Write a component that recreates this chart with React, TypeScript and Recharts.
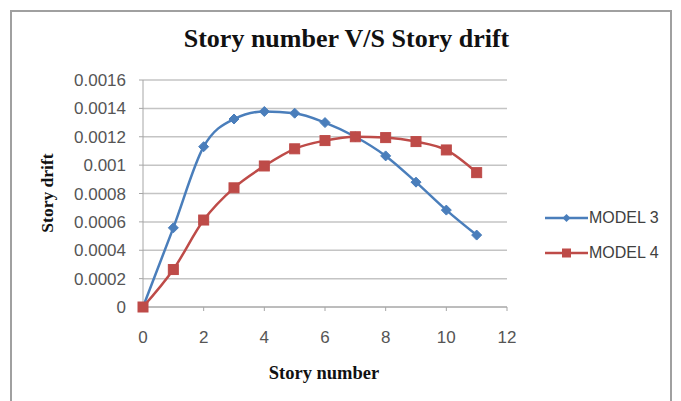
import { LineChart, Line, XAxis, YAxis, CartesianGrid, Legend } from "recharts";

const stories = [0, 1, 2, 3, 4, 5, 6, 7, 8, 9, 10, 11];
const model3 = [0, 0.000558, 0.00113, 0.001325, 0.001378, 0.001366, 0.0013, 0.0012, 0.001065, 0.00088, 0.000683, 0.000507];
const model4 = [0, 0.000264, 0.000613, 0.00084, 0.000994, 0.001115, 0.001173, 0.0012, 0.001194, 0.001166, 0.001107, 0.000947];
const xTicks = [0, 2, 4, 6, 8, 10, 12];
const yTicks = [0, 0.0002, 0.0004, 0.0006, 0.0008, 0.001, 0.0012, 0.0014, 0.0016];

const data = stories.map((s, i) => ({ story: s, m3: model3[i], m4: model4[i] }));

const BLUE = "#4a7ebb";
const RED = "#be4b48";
const serif = "'Liberation Serif', 'Times New Roman', serif";
const sans = "'Liberation Sans', Arial, sans-serif";

const Diamond = (props: any) => {
  const { cx, cy } = props;
  if (cx == null || cy == null) return null;
  const r = 5;
  return (
    <polygon
      points={`${cx},${cy - r} ${cx + r},${cy} ${cx},${cy + r} ${cx - r},${cy}`}
      fill={BLUE}
      stroke={BLUE}
    />
  );
};

const Square = (props: any) => {
  const { cx, cy } = props;
  if (cx == null || cy == null) return null;
  const s = 10;
  return <rect x={cx - s / 2} y={cy - s / 2} width={s} height={s} fill={RED} stroke={RED} />;
};

const legendItems = [
  { name: "MODEL 3", color: BLUE, shape: "diamond" },
  { name: "MODEL 4", color: RED, shape: "square" },
];

const LegendBox = () => (
  <div>
    {legendItems.map((it) => (
      <div key={it.name} style={{ display: "flex", alignItems: "center", height: 35 }}>
        <svg width={43} height={14}>
          <line x1={0} y1={7} x2={43} y2={7} stroke={it.color} strokeWidth={2.5} />
          {it.shape === "diamond" ? (
            <polygon points="21.5,3 25.5,7 21.5,11 17.5,7" fill={it.color} />
          ) : (
            <rect x={17} y={2.5} width={9} height={9} fill={it.color} />
          )}
        </svg>
        <span style={{ fontFamily: sans, fontSize: 16, color: "#404040", marginLeft: 1 }}>{it.name}</span>
      </div>
    ))}
  </div>
);

export default function App() {
  return (
    <div style={{ position: "absolute", left: 0, top: 0, width: 681, height: 401, background: "#fff", overflow: "hidden" }}>
      <div
        style={{
          position: "absolute",
          left: 10,
          top: 10,
          width: 662,
          height: 400,
          border: "2px solid #a0a0a0",
          boxSizing: "border-box",
        }}
      />
      <div
        style={{
          position: "absolute",
          left: 0,
          width: 693,
          top: 24,
          textAlign: "center",
          fontFamily: serif,
          fontWeight: "bold",
          fontSize: 26,
          color: "#111",
        }}
      >
        Story number V/S Story drift
      </div>
      <div
        style={{
          position: "absolute",
          left: 224,
          width: 200,
          top: 363,
          textAlign: "center",
          fontFamily: serif,
          fontWeight: "bold",
          fontSize: 18.5,
          color: "#111",
        }}
      >
        Story number
      </div>
      <div
        style={{
          position: "absolute",
          left: 47 - 60,
          top: 193 - 11,
          width: 120,
          height: 22,
          lineHeight: "22px",
          textAlign: "center",
          transform: "rotate(-90deg)",
          fontFamily: serif,
          fontWeight: "bold",
          fontSize: 17.5,
          color: "#111",
        }}
      >
        Story drift
      </div>
      <div style={{ position: "absolute", left: 0, top: 0 }}>
        <LineChart width={681} height={401} data={data} margin={{ top: 80, right: 174, bottom: 64, left: 0 }}>
          <CartesianGrid vertical={false} stroke="#c4c4c4" strokeWidth={1.5} />
          <XAxis
            dataKey="story"
            type="number"
            domain={[0, 12]}
            ticks={xTicks}
            interval={0}
            height={30}
            stroke="#a6a6a6"
            tickSize={4}
            tickMargin={20}
            tick={{ fill: "#555", fontSize: 17, fontFamily: sans }}
          />
          <YAxis
            type="number"
            domain={[0, 0.0016]}
            ticks={yTicks}
            interval={0}
            width={143}
            stroke="#a6a6a6"
            tickSize={4}
            tickMargin={13}
            tick={{ fill: "#555", fontSize: 17, fontFamily: sans }}
          />
          <Legend
            layout="vertical"
            align="center"
            verticalAlign="middle"
            content={<LegendBox />}
            wrapperStyle={{ left: 545, top: 200, width: 134, height: 70 }}
          />
          <Line
            type="monotone"
            dataKey="m3"
            name="MODEL 3"
            stroke={BLUE}
            strokeWidth={2.5}
            dot={<Diamond />}
            isAnimationActive={false}
          />
          <Line
            type="monotone"
            dataKey="m4"
            name="MODEL 4"
            stroke={RED}
            strokeWidth={2.5}
            dot={<Square />}
            isAnimationActive={false}
          />
        </LineChart>
      </div>
    </div>
  );
}
